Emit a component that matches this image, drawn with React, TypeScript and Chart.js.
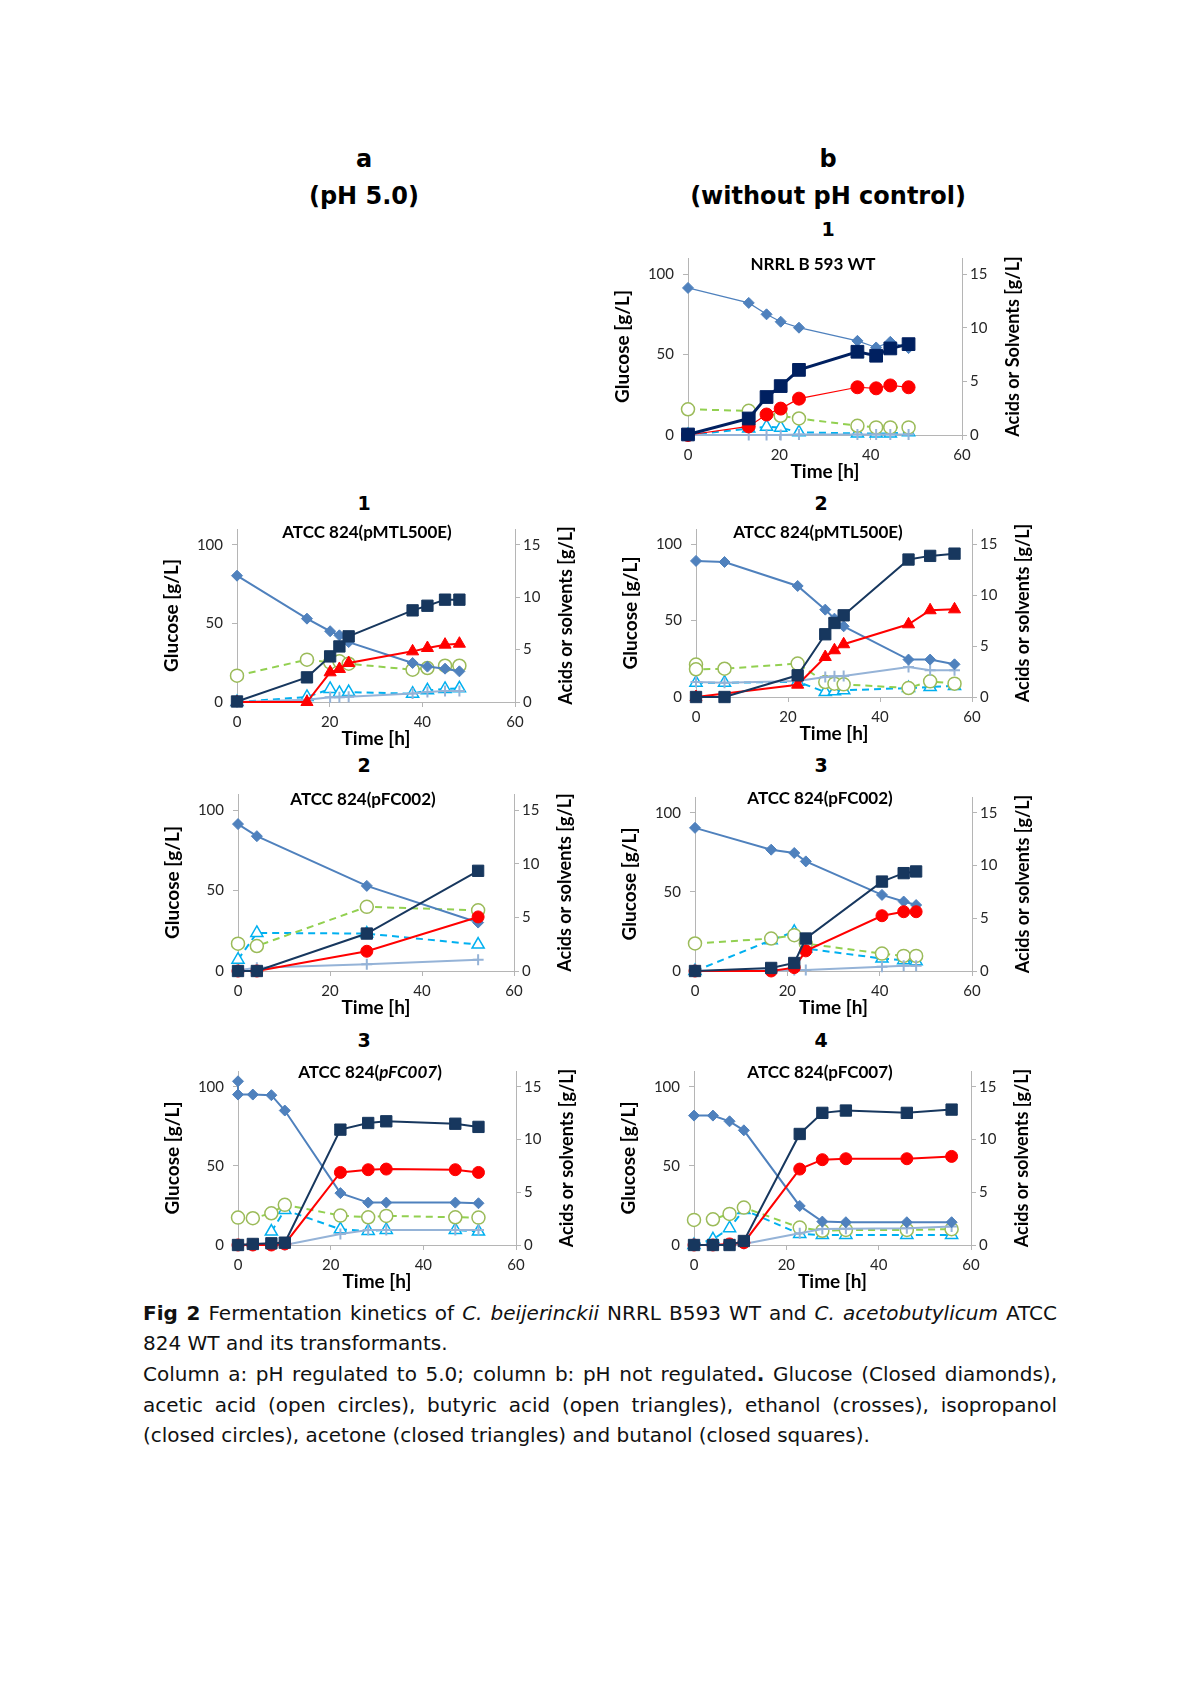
import React, { useEffect, useRef } from "react";
import { Chart, registerables } from "chart.js";

Chart.register(...registerables);

// ---------------- DATA (time in h; glucose -> left axis, others -> right axis, g/L) ----------------
// b1: NRRL B 593 WT (without pH control)
const b1Time = [0, 13.3, 17.2, 20.3, 24.3, 37.1, 41.2, 44.3, 48.3];
const b1Glucose = [91.4, 82.1, 75.0, 70.4, 66.7, 58.5, 54.4, 57.9, 54.0];
const b1Butanol = [0.05, 1.54, 3.54, 4.56, 6.07, 7.76, 7.39, 8.07, 8.47];
const b1Isopropanol = [0, 0.8, 1.91, 2.46, 3.39, 4.45, 4.35, 4.62, 4.45];
const b1Acetic = [2.4, 2.25, null, 1.79, 1.54, 0.86, 0.71, 0.71, 0.71];
const b1Butyric = [0, 0.6, 0.77, 0.68, 0.25, 0.15, 0.15, 0.15, 0.25];
const b1Ethanol = [0, 0, 0, 0, 0.05, 0.05, 0.05, 0.05, 0.05];

// a1: ATCC 824(pMTL500E), pH 5.0
const a1Time = [0, 15.1, 20.1, 22.1, 24.1, 37.9, 41.1, 44.9, 48];
const a1Glucose = [80.3, 53.0, 45.0, 42.4, 38.1, 24.8, 22.5, 21.2, 19.5];
const a1Butanol = [0.05, 2.35, 4.35, 5.3, 6.26, 8.74, 9.18, 9.76, 9.76];
const a1Acetone = [0, 0, 2.83, 3.15, 3.72, 4.83, 5.15, 5.47, 5.56];
const a1Acetic = [2.51, 4.04, 3.78, 3.88, 3.65, 3.08, 3.24, 3.46, 3.46];
const a1Butyric = [0, 0.48, 1.24, 0.86, 0.95, 0.79, 1.11, 1.24, 1.3];
const a1Ethanol = [0, 0.22, 0.45, 0.45, 0.5, 0.8, 0.95, 1.05, 1.05];

// b2: ATCC 824(pMTL500E), without pH control
const b2Time = [0, 0, 6.2, 22.1, 28.1, 30.1, 32.1, 46.2, 50.9, 56.2];
const b2Glucose = [89.1, null, 88.4, 72.7, 57.2, 51.3, 46.3, 24.5, 24.5, 21.4];
const b2Butanol = [0, null, 0, 2.13, 6.16, 7.27, 8.02, 13.5, 13.86, 14.08];
const b2Acetone = [0, null, null, 1.21, 3.93, 4.59, 5.18, 7.14, 8.52, 8.61];
const b2Acetic = [3.18, 2.72, 2.78, 3.28, 1.47, 1.31, 1.24, 0.88, 1.54, 1.31];
const b2Butyric = [1.4, null, 1.4, 1.5, 0.49, 0.56, 0.66, 0.88, 0.98, 1.08];
const b2Ethanol = [1.47, null, 1.41, 1.57, 1.97, 2.03, 2.06, 2.95, 2.62, 2.62];

// a2: ATCC 824(pFC002), pH 5.0
const a2Time = [0, 4.1, 28, 52.2];
const a2Glucose = [91.3, 83.8, 52.9, 30.1];
const a2Butanol = [0, 0, 3.49, 9.34];
const a2Isopropanol = [0, 0, 1.84, 5.04];
const a2Acetic = [2.55, 2.33, 5.98, 5.66];
const a2Butyric = [1.06, 3.55, 3.49, 2.46];
const a2Ethanol = [0.06, 0.31, 0.62, 1.06];

// b3: ATCC 824(pFC002), without pH control
const b3Time = [0, 16.5, 21.5, 24, 40.5, 45.2, 47.9];
const b3Glucose = [90.5, 76.7, 74.6, 69.3, 48.1, 43.9, 41.7];
const b3Butanol = [0, 0.29, 0.76, 3.08, 8.48, 9.28, 9.44];
const b3Isopropanol = [0, 0, 0.32, 1.91, 5.24, 5.62, 5.62];
const b3Acetic = [2.61, 3.08, 3.4, 2.6, 1.65, 1.43, 1.43];
const b3Butyric = [0, 2.92, 3.72, 2.13, 1.18, 1.02, 0.92];
const b3Ethanol = [0, 0.05, 0.1, 0.1, 0.4, 0.5, 0.5];

// a3: ATCC 824(pFC007), pH 5.0
const a3Time = [0, 0, 3.2, 7.2, 10.1, 22.1, 28.1, 32, 46.9, 51.9];
const a3Glucose = [103.5, 95.1, 95.1, 94.7, 85.0, 32.8, 26.8, 26.8, 26.8, 26.4];
const a3Butanol = [null, 0, 0.1, 0.16, 0.22, 10.94, 11.57, 11.73, 11.5, 11.2];
const a3Isopropanol = [null, 0, 0, 0, 0.1, 6.88, 7.14, 7.2, 7.14, 6.88];
const a3Acetic = [null, 2.6, 2.54, 3.01, 3.81, 2.79, 2.63, 2.76, 2.63, 2.6];
const a3Butyric = [null, null, null, 1.27, 3.33, 1.49, 1.33, 1.43, 1.43, 1.27];
const a3Ethanol = [null, 0, 0, 0, 0, 1.05, 1.43, 1.43, 1.43, 1.43];

// b4: ATCC 824(pFC007), without pH control
const b4Time = [0, 4.1, 7.7, 10.8, 22.9, 27.8, 32.9, 46.1, 55.8];
const b4Glucose = [81.8, 81.8, 78.2, 72.5, 24.7, 14.8, 14.4, 14.4, 14.4];
const b4Butanol = [0, 0, 0, 0.38, 10.53, 12.53, 12.75, 12.53, 12.84];
const b4Isopropanol = [0, 0, 0.1, 0.22, 7.2, 8.09, 8.18, 8.18, 8.4];
const b4Acetic = [2.38, 2.44, 2.95, 3.55, 1.65, 1.35, 1.43, 1.43, 1.5];
const b4Butyric = [0, 0.54, 1.59, 3.33, 1.05, 0.95, 0.95, 0.95, 0.95];
const b4Ethanol = [0, 0, 0, 0.1, 1.11, 1.52, 1.55, 1.59, 1.75];

// axis ticks
const xTicks = [0, 20, 40, 60];
const leftTicks = [0, 50, 100];
const rightTicks = [0, 5, 10, 15];

// ---------------- STYLE ----------------
const FONT = "Lato, 'Open Sans', 'Liberation Sans', sans-serif";
const AXIS = "#b5b5b5";
const TXT = "#262626";
const C_GLU = "#4f81bd";
const C_BUT_A = "#17375e";
const C_BUT_B1 = "#002060";
const C_RED = "#ff0000";
const C_ACE_M = "#9bbb59";
const C_ACE_L = "#92d050";
const C_BUTYR = "#00b0f0";
const C_ETH = "#95b3d7";

type Vals = (number | null)[];
type Spec = {
  key: string;
  time: number[];
  glucose: Vals;
  butanol: Vals;
  red: Vals;
  redShape: "circle" | "triangle";
  acetic: Vals;
  butyric: Vals;
  ethanol: Vals;
  titleParts: { text: string; italic?: boolean }[];
  rightTitle: string;
  box: { x0: number; x1: number; yTop: number; y0: number };
  titlePos: { x: number; y: number };
  thin?: boolean;
};

const specs: Spec[] = [
  {
    key: "b1", time: b1Time, glucose: b1Glucose, butanol: b1Butanol, red: b1Isopropanol, redShape: "circle",
    acetic: b1Acetic, butyric: b1Butyric, ethanol: b1Ethanol,
    titleParts: [{ text: "NRRL B 593 WT" }], rightTitle: "Acids or Solvents [g/L]",
    box: { x0: 688, x1: 962, yTop: 258, y0: 435 }, titlePos: { x: 813, y: 265 }, thin: true,
  },
  {
    key: "a1", time: a1Time, glucose: a1Glucose, butanol: a1Butanol, red: a1Acetone, redShape: "triangle",
    acetic: a1Acetic, butyric: a1Butyric, ethanol: a1Ethanol,
    titleParts: [{ text: "ATCC 824(pMTL500E)" }], rightTitle: "Acids or solvents [g/L]",
    box: { x0: 237, x1: 515, yTop: 529, y0: 702 }, titlePos: { x: 367, y: 533 },
  },
  {
    key: "b2", time: b2Time, glucose: b2Glucose, butanol: b2Butanol, red: b2Acetone, redShape: "triangle",
    acetic: b2Acetic, butyric: b2Butyric, ethanol: b2Ethanol,
    titleParts: [{ text: "ATCC 824(pMTL500E)" }], rightTitle: "Acids or solvents [g/L]",
    box: { x0: 696, x1: 972, yTop: 529, y0: 697 }, titlePos: { x: 818, y: 533 },
  },
  {
    key: "a2", time: a2Time, glucose: a2Glucose, butanol: a2Butanol, red: a2Isopropanol, redShape: "circle",
    acetic: a2Acetic, butyric: a2Butyric, ethanol: a2Ethanol,
    titleParts: [{ text: "ATCC 824(pFC002)" }], rightTitle: "Acids or solvents [g/L]",
    box: { x0: 238, x1: 514, yTop: 794, y0: 971 }, titlePos: { x: 363, y: 800 },
  },
  {
    key: "b3", time: b3Time, glucose: b3Glucose, butanol: b3Butanol, red: b3Isopropanol, redShape: "circle",
    acetic: b3Acetic, butyric: b3Butyric, ethanol: b3Ethanol,
    titleParts: [{ text: "ATCC 824(pFC002)" }], rightTitle: "Acids or solvents [g/L]",
    box: { x0: 695, x1: 972, yTop: 797, y0: 971 }, titlePos: { x: 820, y: 799 },
  },
  {
    key: "a3", time: a3Time, glucose: a3Glucose, butanol: a3Butanol, red: a3Isopropanol, redShape: "circle",
    acetic: a3Acetic, butyric: a3Butyric, ethanol: a3Ethanol,
    titleParts: [{ text: "ATCC 824(" }, { text: "pFC007", italic: true }, { text: ")" }],
    rightTitle: "Acids or solvents [g/L]",
    box: { x0: 238, x1: 516, yTop: 1071, y0: 1245 }, titlePos: { x: 370, y: 1073 },
  },
  {
    key: "b4", time: b4Time, glucose: b4Glucose, butanol: b4Butanol, red: b4Isopropanol, redShape: "circle",
    acetic: b4Acetic, butyric: b4Butyric, ethanol: b4Ethanol,
    titleParts: [{ text: "ATCC 824(pFC007)" }], rightTitle: "Acids or solvents [g/L]",
    box: { x0: 694, x1: 971, yTop: 1071, y0: 1245 }, titlePos: { x: 820, y: 1073 },
  },
];

const PAD_L = 80;
const PAD_R = 70;
const PAD_T = 20;
const PAD_B = 50;

function pts(time: number[], vals: Vals) {
  return time.map((t, i) => ({ x: t, y: vals[i] }));
}

function Panel({ spec }: { spec: Spec }) {
  const ref = useRef<HTMLCanvasElement>(null);
  const { x0, x1, yTop, y0 } = spec.box;
  const left = x0 - PAD_L;
  const top = yTop - PAD_T;
  const width = x1 - x0 + PAD_L + PAD_R;
  const height = y0 - yTop + PAD_T + PAD_B;

  useEffect(() => {
    const canvas = ref.current;
    if (!canvas) return;
    const thin = !!spec.thin;
    const butColor = thin ? C_BUT_B1 : C_BUT_A;

    const datasets: any[] = [
      {
        label: "butanol", yAxisID: "y2", data: pts(spec.time, spec.butanol),
        borderColor: butColor, borderWidth: thin ? 3 : 2,
        pointStyle: "rect", pointRadius: thin ? 9 : 8,
        pointBackgroundColor: butColor, pointBorderColor: butColor, pointBorderWidth: 1,
      },
      {
        label: spec.redShape === "circle" ? "isopropanol" : "acetone", yAxisID: "y2",
        data: pts(spec.time, spec.red),
        borderColor: C_RED, borderWidth: thin ? 1.2 : 2,
        pointStyle: spec.redShape, pointRadius: spec.redShape === "circle" ? (thin ? 6.5 : 6) : 7,
        pointBackgroundColor: C_RED, pointBorderColor: C_RED, pointBorderWidth: 1,
      },
      {
        label: "glucose", yAxisID: "y", data: pts(spec.time, spec.glucose),
        borderColor: C_GLU, borderWidth: thin ? 1.2 : 2,
        pointStyle: "rectRot", pointRadius: 5.5,
        pointBackgroundColor: C_GLU, pointBorderColor: C_GLU, pointBorderWidth: 1,
      },
      {
        label: "ethanol", yAxisID: "y2", data: pts(spec.time, spec.ethanol),
        borderColor: C_ETH, borderWidth: 2,
        pointStyle: "cross", pointRadius: 5.5,
        pointBackgroundColor: C_ETH, pointBorderColor: C_ETH, pointBorderWidth: 2,
      },
      {
        label: "acetic acid", yAxisID: "y2", data: pts(spec.time, spec.acetic),
        borderColor: C_ACE_L, borderWidth: 2, borderDash: [7, 5],
        pointStyle: "circle", pointRadius: 6.5,
        pointBackgroundColor: "#ffffff", pointBorderColor: C_ACE_M, pointBorderWidth: 1.5,
      },
      {
        label: "butyric acid", yAxisID: "y2", data: pts(spec.time, spec.butyric),
        borderColor: C_BUTYR, borderWidth: 2, borderDash: [7, 5],
        pointStyle: "triangle", pointRadius: 7,
        pointBackgroundColor: "#ffffff", pointBorderColor: C_BUTYR, pointBorderWidth: 1.5,
      },
    ].map((d) => ({ ...d, clip: false }));

    const tickFont = { family: FONT, size: 15 };
    const titleFont = { family: FONT, size: 19, weight: "bold" as const };
    const grid = { drawOnChartArea: false, drawTicks: true, tickLength: 5, color: AXIS, lineWidth: 1 };
    const border = { display: true, color: AXIS, width: 1 };

    const textPlugin = {
      id: "panelText",
      afterDraw(chart: any) {
        const { ctx, chartArea } = chart;
        ctx.save();
        ctx.font = `bold 18px ${FONT}`;
        ctx.fillStyle = "#000";
        ctx.translate(chartArea.right + 51, (chartArea.top + chartArea.bottom) / 2);
        ctx.rotate(-Math.PI / 2);
        ctx.textAlign = "center";
        ctx.textBaseline = "middle";
        ctx.fillText(spec.rightTitle, 0, 0);
        ctx.restore();

        ctx.save();
        const fonts = spec.titleParts.map((p) => `${p.italic ? "italic " : ""}bold 17px ${FONT}`);
        let total = 0;
        const widths = spec.titleParts.map((p, i) => {
          ctx.font = fonts[i];
          const w = ctx.measureText(p.text).width;
          total += w;
          return w;
        });
        let x = spec.titlePos.x - left - total / 2;
        const y = spec.titlePos.y - top;
        ctx.fillStyle = "#000";
        ctx.textBaseline = "middle";
        ctx.textAlign = "left";
        spec.titleParts.forEach((p, i) => {
          ctx.font = fonts[i];
          ctx.fillText(p.text, x, y);
          x += widths[i];
        });
        ctx.restore();
      },
    };

    const chart = new Chart(canvas, {
      type: "line",
      data: { datasets },
      plugins: [textPlugin],
      options: {
        animation: false,
        responsive: false,
        devicePixelRatio: 1,
        events: [],
        spanGaps: true,
        layout: { padding: { top: PAD_T, left: 0, right: 0, bottom: 0 } },
        elements: { line: { tension: 0 } },
        plugins: { legend: { display: false }, tooltip: { enabled: false }, title: { display: false } },
        scales: {
          x: {
            type: "linear", position: "bottom", min: 0, max: 60,
            ticks: { stepSize: 20, color: TXT, font: tickFont, padding: 6, maxRotation: 0 },
            afterBuildTicks: (a: any) => { a.ticks = xTicks.map((v) => ({ value: v })); },
            grid, border,
            title: { display: true, text: "Time [h]", color: "#000", font: titleFont, padding: { top: 0, bottom: 2 } },
            afterFit: (s: any) => { s.height = PAD_B; },
          },
          y: {
            type: "linear", position: "left", min: 0, max: 110,
            ticks: { stepSize: 50, color: TXT, font: tickFont, padding: 9 },
            afterBuildTicks: (a: any) => { a.ticks = leftTicks.map((v) => ({ value: v })); },
            grid, border,
            title: { display: true, text: "Glucose [g/L]", color: "#000", font: titleFont, padding: { top: 3, bottom: 0 } },
            afterFit: (s: any) => { s.width = PAD_L; },
          },
          y2: {
            type: "linear", position: "right", min: 0, max: 16.5,
            ticks: { stepSize: 5, color: TXT, font: tickFont, padding: 3 },
            afterBuildTicks: (a: any) => { a.ticks = rightTicks.map((v) => ({ value: v })); },
            grid, border,
            title: { display: false },
            afterFit: (s: any) => { s.width = PAD_R; },
          },
        },
      } as any,
    });
    return () => chart.destroy();
  }, []);

  return (
    <canvas
      ref={ref}
      width={width}
      height={height}
      style={{ position: "absolute", left, top, width, height }}
    />
  );
}

const HFONT = "'DejaVu Sans', Verdana, sans-serif";

function Label({ text, cx, cy, size, bold = true }: { text: string; cx: number; cy: number; size: number; bold?: boolean }) {
  const lh = Math.round(size * 1.3);
  return (
    <div
      style={{
        position: "absolute", left: cx - 250, width: 500, top: cy - lh / 2, height: lh, lineHeight: `${lh}px`,
        textAlign: "center", fontFamily: HFONT, fontSize: size, fontWeight: bold ? "bold" : "normal", color: "#000",
        whiteSpace: "nowrap",
      }}
    >
      {text}
    </div>
  );
}

const CAP_LEFT = 143;
const CAP_WIDTH = 914;
const CAP_SIZE = 20;

function CapLine({ cy, justify, children }: { cy: number; justify: boolean; children: React.ReactNode }) {
  return (
    <div
      style={{
        position: "absolute", left: CAP_LEFT, width: CAP_WIDTH, top: cy - 13, height: 26, lineHeight: "26px",
        fontFamily: HFONT, fontSize: CAP_SIZE, color: "#111",
        textAlign: justify ? "justify" : "left",
        textAlignLast: justify ? "justify" : "left",
      } as any}
    >
      {children}
    </div>
  );
}

export default function App() {
  return (
    <div style={{ position: "absolute", left: 0, top: 0, width: 1200, height: 1697, background: "#fff", overflow: "hidden" }}>
      <Label text="a" cx={364} cy={159} size={24} />
      <Label text="(pH 5.0)" cx={364} cy={196} size={24} />
      <Label text="b" cx={828} cy={159} size={24} />
      <Label text="(without pH control)" cx={828} cy={196} size={24} />

      <Label text="1" cx={828} cy={229} size={19} />
      <Label text="1" cx={364} cy={503} size={19} />
      <Label text="2" cx={821} cy={503} size={19} />
      <Label text="2" cx={364} cy={765} size={19} />
      <Label text="3" cx={821} cy={765} size={19} />
      <Label text="3" cx={364} cy={1040} size={19} />
      <Label text="4" cx={821} cy={1040} size={19} />

      {specs.map((s) => (
        <Panel key={s.key} spec={s} />
      ))}

      <CapLine cy={1313} justify>
        <b>Fig 2</b> Fermentation kinetics of <i>C. beijerinckii</i> NRRL B593 WT and <i>C. acetobutylicum</i> ATCC
      </CapLine>
      <CapLine cy={1343} justify={false}>
        824 WT and its transformants.
      </CapLine>
      <CapLine cy={1374} justify>
        Column a: pH regulated to 5.0; column b: pH not regulated<b>.</b> Glucose (Closed diamonds),
      </CapLine>
      <CapLine cy={1405} justify>
        acetic acid (open circles), butyric acid (open triangles), ethanol (crosses), isopropanol
      </CapLine>
      <CapLine cy={1435} justify={false}>
        (closed circles), acetone (closed triangles) and butanol (closed squares).
      </CapLine>
    </div>
  );
}
